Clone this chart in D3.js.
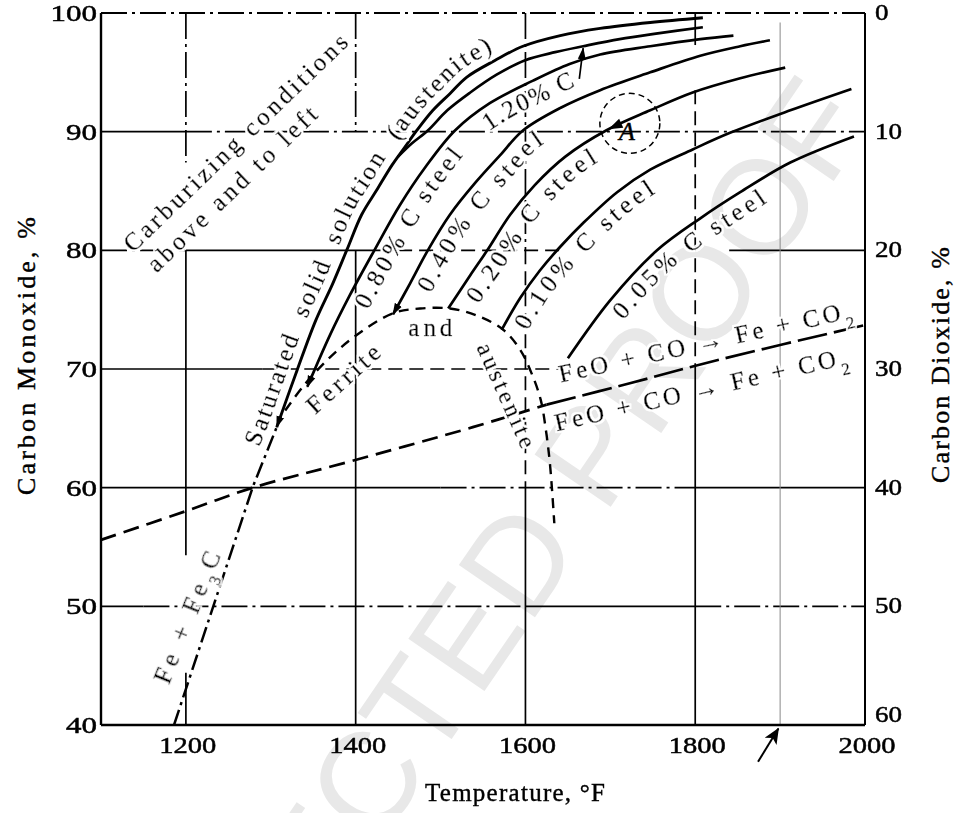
<!DOCTYPE html>
<html><head><meta charset="utf-8">
<script src="https://cdn.jsdelivr.net/npm/d3@7/dist/d3.min.js"></script>
<style>
html,body{margin:0;padding:0;background:#fff;}
text{font-family:"Liberation Serif","DejaVu Serif","Times New Roman",serif;fill:#000;}
</style></head><body>
<svg id="chart" width="956" height="813" xmlns="http://www.w3.org/2000/svg"></svg>
<script>
// ---------------- data ----------------
const tempTicks=[1200,1400,1600,1800,2000];
const tempTickLabels=["1200","1400","1600","1800","2000"];
const coTicks=[40,50,60,70,80,90,100];
const coTickLabels=["40","50","60","70","80","90","100"];
const co2TickLabels=["60","50","40","30","20","10","0"];

const satT=[1307,1331,1353,1373,1390,1407,1425,1443,1458,1472,1491,1511,1531,1564,1597,1641,1688,1747,1809];
const satCO=[65.1,69.9,74.1,77.2,80.1,83.0,85.1,87.2,88.7,90.1,91.8,93.2,94.6,96.0,97.2,98.1,98.7,99.2,99.6];
const fe3cT=[1186,1279,1307];
const fe3cCO=[40.0,60.1,65.1];
const c120T=[1450,1466,1485,1508,1535,1566,1599,1635,1668,1711,1758,1809];
const c120CO=[87.9,89.0,90.1,91.8,93.3,94.8,96.0,96.7,97.2,97.8,98.3,98.8];
const c080T=[1343,1370,1393,1422,1452,1482,1517,1558,1609,1652,1688,1747,1806,1845];
const c080CO=[68.5,72.9,76.2,80.0,83.8,87.0,90.1,92.4,94.3,95.7,96.5,97.2,97.8,98.1];
const c040T=[1444,1464,1485,1511,1541,1570,1597,1641,1688,1747,1806,1853,1888];
const c040CO=[74.6,77.2,80.0,83.0,85.7,88.0,90.1,92.0,93.5,95.0,96.4,97.2,97.7];
const c020T=[1509,1535,1555,1582,1611,1647,1695,1747,1797,1853,1906];
const c020CO=[75.1,77.9,80.0,83.0,85.5,87.9,90.1,91.8,93.3,94.5,95.4];
const c010T=[1572,1594,1617,1641,1668,1708,1747,1797,1841,1912,1984];
const c010CO=[73.3,76.0,78.3,80.3,82.3,84.9,86.8,88.5,89.9,91.8,93.6];
const c005T=[1650,1700,1755,1806,1853,1912,1987];
const c005CO=[70.9,75.8,80.0,82.7,84.9,87.4,89.6];
const domeT=[1317,1340,1370,1402,1444,1476,1511,1543,1574,1594,1608,1618,1624,1629,1634];
const domeCO=[66.5,68.7,71.0,72.9,74.7,75.1,75.1,74.5,73.3,71.6,69.5,67.4,64.9,61.9,57.0];
const feoT=[1100,1199,1279,1393,1538,1625,1723,1829,2000];
const feoCO=[55.6,58.0,60.0,62.2,65.1,67.0,68.8,70.8,73.7];

// grid segments (data units) and their line style
const hGrid=[
 {v:90,a:1100,b:1200,s:"solid"},{v:90,a:1200,b:2000,s:"dashdot"},
 {v:80,a:1100,b:1200,s:"dashdot"},{v:80,a:1200,b:1450,s:"solid"},{v:80,a:1450,b:1640,s:"dash"},{v:80,a:1840,b:2000,s:"solid"},
 {v:70,a:1100,b:1290,s:"solid"},{v:70,a:1290,b:1640,s:"dash"},
 {v:60,a:1100,b:1500,s:"solid"},{v:60,a:1500,b:1800,s:"dashdot"},{v:60,a:1800,b:2000,s:"solid"},
 {v:50,a:1100,b:1150,s:"solid"},{v:50,a:1150,b:1600,s:"dashdot"},{v:50,a:1600,b:1800,s:"solid"},{v:50,a:1800,b:2000,s:"dashdot"}
];
const vGrid=[
 {v:1200,a:100,b:87.4,s:"dashdot"},{v:1200,a:80,b:54.3,s:"solid"},{v:1200,a:44.4,b:40,s:"solid"},
 {v:1400,a:100,b:90,s:"dashdot"},{v:1400,a:80,b:40,s:"solid"},
 {v:1600,a:100,b:80,s:"dashdot"},{v:1600,a:80,b:60,s:"dash"},{v:1600,a:60,b:40,s:"solid"},
 {v:1800,a:100,b:97.3,s:"solid"},{v:1800,a:93.5,b:70,s:"dash"},{v:1800,a:70,b:40,s:"solid"},
 {v:1900,a:99.2,b:40,s:"thin"}
];

// ---------------- drawing ----------------
const xS=d3.scaleLinear().domain([1100,2000]).range([101,865]);
const yS=d3.scaleLinear().domain([40,100]).range([725,13]);
const svg=d3.select("#chart");
const zip=(a,b)=>a.map((v,i)=>[v,b[i]]);
const smooth=d3.line().x(d=>xS(d[0])).y(d=>yS(d[1])).curve(d3.curveCatmullRom.alpha(0.5));
const straight=d3.line().x(d=>xS(d[0])).y(d=>yS(d[1]));
const dashes={solid:null,dashdot:"26,5,3,5",dash:"14,7",thin:null};

svg.append("rect").attr("width",956).attr("height",813).attr("fill","#fff");

// watermark
svg.append("text").attr("transform",`translate(${xS(1510)},${yS(45.7)}) rotate(-55.6)`)
  .attr("text-anchor","middle").attr("dy","0.36em")
  .style("font-family","'Liberation Sans',Arial,sans-serif").style("font-size","134px")
  .style("fill","#e8e8e8").text("CORRECTED PROOF");

const defs=svg.append("defs");
defs.append("marker").attr("id","arr").attr("viewBox","0 0 12 10").attr("refX",11).attr("refY",5)
  .attr("markerWidth",12).attr("markerHeight",10).attr("markerUnits","userSpaceOnUse")
  .attr("orient","auto-start-reverse").append("path").attr("d","M0,1L12,5L0,9Z").attr("fill","#000");
defs.append("marker").attr("id","arrBig").attr("viewBox","0 0 16 14").attr("refX",15).attr("refY",7)
  .attr("markerWidth",16).attr("markerHeight",14).attr("markerUnits","userSpaceOnUse")
  .attr("orient","auto").append("path").attr("d","M0,0L16,7L0,14L4,7Z").attr("fill","#000");
// white halo filter for labels lying on lines
const hf=defs.append("filter").attr("id","halo").attr("x","-20%").attr("y","-40%").attr("width","140%").attr("height","180%");
hf.append("feMorphology").attr("in","SourceAlpha").attr("operator","dilate").attr("radius",2).attr("result","d");
hf.append("feFlood").attr("flood-color","#fff").attr("result","f");
hf.append("feComposite").attr("in","f").attr("in2","d").attr("operator","in").attr("result","w");
const fm=hf.append("feMerge"); fm.append("feMergeNode").attr("in","w"); fm.append("feMergeNode").attr("in","SourceGraphic");

// grid
const g=svg.append("g").attr("stroke","#000").attr("fill","none");
hGrid.forEach(d=>{
  g.append("line").attr("x1",xS(d.a)).attr("x2",xS(d.b)).attr("y1",yS(d.v)).attr("y2",yS(d.v))
   .attr("stroke-width",d.s==="thin"?1:1.7).attr("stroke",d.s==="thin"?"#888":"#000")
   .attr("stroke-dasharray",dashes[d.s]);
});
vGrid.forEach(d=>{
  g.append("line").attr("y1",yS(d.a)).attr("y2",yS(d.b)).attr("x1",xS(d.v)).attr("x2",xS(d.v))
   .attr("stroke-width",d.s==="thin"?1:1.7).attr("stroke",d.s==="thin"?"#888":"#000")
   .attr("stroke-dasharray",dashes[d.s]);
});
// frame
g.append("line").attr("x1",xS(1100)).attr("x2",xS(1100)).attr("y1",yS(40)).attr("y2",yS(100)).attr("stroke-width",2.4);
g.append("line").attr("x1",xS(1100)).attr("x2",xS(2000)).attr("y1",yS(40)).attr("y2",yS(40)).attr("stroke-width",2.4);
g.append("line").attr("x1",xS(2000)).attr("x2",xS(2000)).attr("y1",yS(40)).attr("y2",yS(100)).attr("stroke-width",2);
g.append("line").attr("x1",xS(1100)).attr("x2",xS(2000)).attr("y1",yS(100)).attr("y2",yS(100)).attr("stroke-width",1.9).attr("stroke-dasharray","26,5,3,5");

// curves
const cg=svg.append("g").attr("fill","none").attr("stroke","#000");
cg.append("path").attr("d",straight(zip(fe3cT,fe3cCO))).attr("stroke-width",2.5).attr("stroke-dasharray","16,5,3,5");
cg.append("path").attr("d",smooth(zip(satT,satCO))).attr("stroke-width",2.9).attr("marker-start","url(#arr)");
cg.append("path").attr("d",smooth(zip(c120T,c120CO))).attr("stroke-width",2.7);
cg.append("path").attr("d",smooth(zip(c080T,c080CO))).attr("stroke-width",2.7).attr("marker-start","url(#arr)");
cg.append("path").attr("d",smooth(zip(c040T,c040CO))).attr("stroke-width",2.7).attr("marker-start","url(#arr)");
cg.append("path").attr("d",smooth(zip(c020T,c020CO))).attr("stroke-width",2.7);
cg.append("path").attr("d",smooth(zip(c010T,c010CO))).attr("stroke-width",2.7);
cg.append("path").attr("d",smooth(zip(c005T,c005CO))).attr("stroke-width",2.7);
cg.append("path").attr("d",smooth(zip(domeT,domeCO))).attr("stroke-width",2.4).attr("stroke-dasharray","10,7");
const feo=zip(feoT,feoCO);
cg.append("path").attr("d",smooth(feo.filter(d=>d[0]<=1625))).attr("stroke-width",2.7).attr("stroke-dasharray","16,8");
cg.append("path").attr("d",smooth(feo.filter(d=>d[0]>=1625))).attr("stroke-width",2.7).attr("stroke-dasharray","30,7");

// "A" point: arrow head on 0.20% curve + dashed loop
{
  const p0=[xS(c020T[6]),yS(c020CO[6])], p1=[xS(c020T[7]),yS(c020CO[7])];
  const ang=Math.atan2(p0[1]-p1[1],p0[0]-p1[0])*180/Math.PI;
  svg.append("path").attr("d","M4,0L-10,-5L-10,5Z").attr("fill","#000")
    .attr("transform",`translate(${p0[0]+6},${p0[1]-3}) rotate(${ang})`);
  svg.append("circle").attr("cx",xS(1723)).attr("cy",yS(90.7)).attr("r",30)
    .attr("fill","none").attr("stroke","#000").attr("stroke-width",1.5).attr("stroke-dasharray","6,4");
  svg.append("text").attr("x",xS(1723)-3).attr("y",yS(90.7)+17).attr("text-anchor","middle")
    .attr("stroke","#000").attr("stroke-width",0.4)
    .style("font-size","26px").style("font-style","italic").text("A");
}

// labels: one element each, black outline for weight, white halo through filter
const lg=svg.append("g").attr("filter","url(#halo)").attr("stroke","#000").attr("stroke-width",0.45);

// labels along curves
const curves={sat:zip(fe3cT,fe3cCO).concat(zip(satT,satCO).slice(1)),c080:zip(c080T,c080CO),
  c040:zip(c040T,c040CO),c020:zip(c020T,c020CO),c010:zip(c010T,c010CO),c005:zip(c005T,c005CO)};
const curveLabels=[
 {key:"sat",text:"Saturated  solid  solution  (austenite)",side:-1,off:9,startCO:63.2,len:470},
 {key:"c080",text:"0.80% C steel",side:1,off:23,startCO:75.8,len:182},
 {key:"c080",text:"1.20% C",side:1,off:23,startCO:91.6,len:98,leader:true},
 {key:"c040",text:"0.40% C steel",side:1,off:23,startCO:77.2,len:190},
 {key:"c020",text:"0.20% C steel",side:1,off:23,startCO:76.5,len:188},
 {key:"c010",text:"0.10% C steel",side:1,off:23,startCO:74.2,len:190},
 {key:"c005",text:"0.05% C steel",side:1,off:23,startCO:75.3,len:188}
];
function offsetPts(pts,side,dist){
  const tmp=svg.append("path").attr("d",smooth(pts)).attr("fill","none");
  const node=tmp.node(), L=node.getTotalLength();
  const s=[]; for(let l=0;l<=L;l+=2) s.push(node.getPointAtLength(l));
  tmp.remove();
  return s.map((p,i)=>{
    const a=s[Math.max(0,i-3)], b=s[Math.min(s.length-1,i+3)];
    let tx=b.x-a.x, ty=b.y-a.y; const n=Math.hypot(tx,ty)||1; tx/=n; ty/=n;
    return {x:p.x+side*dist*(-ty), y:p.y+side*dist*tx, cy:p.y};
  });
}
curveLabels.forEach((lb,i)=>{
  const o=offsetPts(curves[lb.key],lb.side,lb.off);
  let best=0,bd=1e9; o.forEach((p,j)=>{const d=Math.abs(yS.invert(p.cy)-lb.startCO); if(d<bd){bd=d;best=j;}});
  let acc=0, cum=[0]; for(let j=1;j<o.length;j++){acc+=Math.hypot(o[j].x-o[j-1].x,o[j].y-o[j-1].y); cum.push(acc);}
  const id="lp"+i;
  defs.append("path").attr("id",id).attr("d","M"+o.map(p=>p.x.toFixed(1)+","+p.y.toFixed(1)).join("L"));
  const t=lg.append("text").style("font-size","25px").attr("xml:space","preserve").style("white-space","pre");
  t.append("textPath").attr("href","#"+id).attr("startOffset",cum[best])
    .attr("textLength",lb.len).attr("lengthAdjust","spacing").text(lb.text);
  if(lb.leader){
    const endL=cum[best]+lb.len+2; let k=cum.findIndex(c=>c>=endL); if(k<0)k=o.length-1;
    const tx=xS(c120T[8]), ty=yS(c120CO[8]);
    svg.append("line").attr("x1",o[k].x).attr("y1",o[k].y-6).attr("x2",tx).attr("y2",ty+2)
      .attr("stroke","#000").attr("stroke-width",1.7).attr("marker-end","url(#arr)");
  }
});

// free labels
const free=[
 {t:"Carburizing conditions",T:1258,C:89.1,r:-44,len:301,fs:25},
 {t:"above and to left",T:1254,C:85.2,r:-44,len:226,fs:25},
 {t:"Ferrite",T:1385,C:69.2,r:-42,len:90,fs:25},
 {t:"and",T:1488,C:73.5,r:0,len:44,fs:25},
 {t:"austenite",T:1578,C:67.8,r:66,len:112,fs:24}
];
free.forEach(d=>{
  lg.append("text").attr("transform",`translate(${xS(d.T)},${yS(d.C)}) rotate(${d.r})`)
    .attr("text-anchor","middle").attr("dy","0.35em").style("font-size",d.fs+"px")
    .attr("textLength",d.len).attr("lengthAdjust","spacing").text(d.t);
});
// Fe + Fe3C
{
  const t=lg.append("text").attr("transform",`translate(${xS(1201)},${yS(49.1)}) rotate(-68)`)
    .attr("text-anchor","middle").attr("dy","0.35em").style("font-size","25px")
    .attr("textLength",140).attr("lengthAdjust","spacing");
  t.append("tspan").text("Fe + Fe");
  t.append("tspan").attr("baseline-shift","sub").style("font-size","16px").text("3");
  t.append("tspan").text("C");
}
// FeO + CO -> Fe + CO2 (twice)
[{T:1814,C:71.6,r:-12.5},{T:1809,C:67.6,r:-13}].forEach(d=>{
  const t=lg.append("text").attr("transform",`translate(${xS(d.T)},${yS(d.C)}) rotate(${d.r})`)
    .attr("text-anchor","middle").style("font-size","25px")
    .attr("textLength",300).attr("lengthAdjust","spacing");
  t.append("tspan").text("FeO + CO \u2192 Fe + CO");
  t.append("tspan").attr("baseline-shift","sub").style("font-size","17px").text("2");
});

// tick labels
const ax=svg.append("g").style("font-size","24px").attr("stroke","#000").attr("stroke-width",0.5);
coTicks.forEach((v,i)=>{
  ax.append("text").attr("x",97).attr("y",yS(v)+8).attr("text-anchor","end")
    .attr("textLength",coTickLabels[i].length*15.5).attr("lengthAdjust","spacingAndGlyphs").text(coTickLabels[i]);
  const lab=co2TickLabels[i];
  ax.append("text").attr("x",875).attr("y",v===40?yS(v)-3:yS(v)+7).attr("text-anchor","start")
    .attr("textLength",lab.length*13.5).attr("lengthAdjust","spacingAndGlyphs").text(lab);
});
tempTicks.forEach((v,i)=>{
  ax.append("text").attr("x",xS(v)+2).attr("y",753).attr("text-anchor","middle")
    .attr("textLength",57).attr("lengthAdjust","spacingAndGlyphs").text(tempTickLabels[i]);
});
// axis titles
const tg=svg.append("g").attr("stroke","#000").attr("stroke-width",0.4);
tg.append("text").attr("transform","translate(35,356) rotate(-90)").attr("text-anchor","middle")
  .style("font-size","26px").attr("textLength",278).attr("lengthAdjust","spacing").text("Carbon Monoxide, %");
tg.append("text").attr("transform","translate(949,365) rotate(-90)").attr("text-anchor","middle")
  .style("font-size","26px").attr("textLength",236).attr("lengthAdjust","spacing").text("Carbon Dioxide, %");
tg.append("text").attr("x",515).attr("y",801).attr("text-anchor","middle")
  .style("font-size","25px").attr("textLength",180).attr("lengthAdjust","spacing").text("Temperature, \u00B0F");

// arrow under the 1900 line
svg.append("line").attr("x1",xS(1874)).attr("y1",yS(36.9)).attr("x2",xS(1898)).attr("y2",yS(39.7))
  .attr("stroke","#000").attr("stroke-width",2).attr("marker-end","url(#arrBig)");
</script></body></html>
